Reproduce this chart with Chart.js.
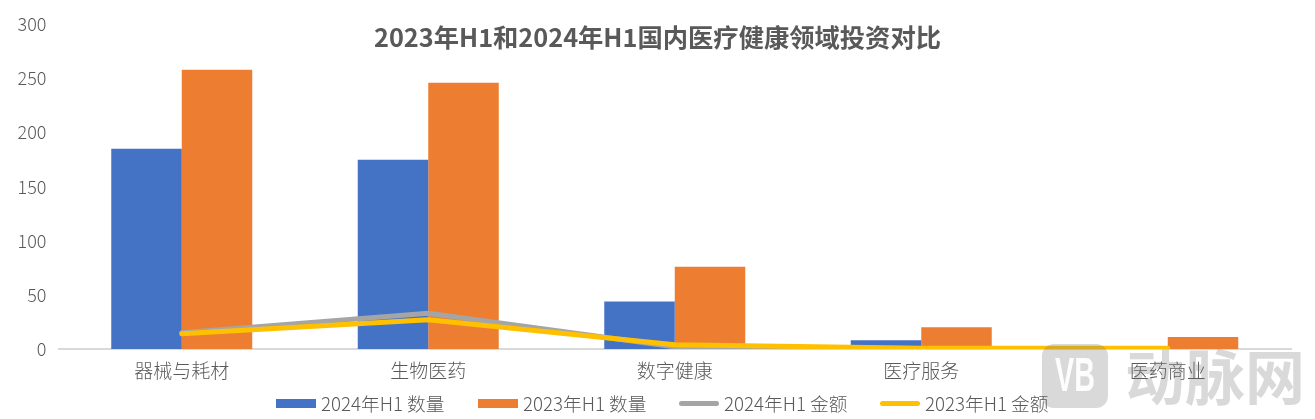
<!DOCTYPE html>
<html>
<head>
<meta charset="utf-8">
<script src="https://cdn.jsdelivr.net/npm/chart.js@4"></script>
<style>
  body { margin: 0; background: #fff; overflow: hidden; }
  #wrap { position: relative; width: 1315px; height: 419px; }
  #legend { position: absolute; left: 0; top: 391px; width: 1315px; height: 24px; font: 300 18.7px "Noto Sans CJK SC", sans-serif; color: #595959; }
  #legend .item { position: absolute; top: 0; line-height: 24px; white-space: nowrap; }
  #legend i { position: absolute; left: 0; top: 8px; width: 40px; height: 9px; }
  #legend i.ln { top: 10px; height: 5px; border-radius: 3px; }
  #legend span { position: absolute; left: 45px; }
</style>
</head>
<body>
<div id="wrap">
  <canvas id="chart" width="1315" height="419"></canvas>
  <div id="legend"></div>
</div>
<script>
const categories = ['器械与耗材', '生物医药', '数字健康', '医疗服务', '医药商业'];
const count2024 = [185, 175, 44, 8, 0];
const count2023 = [258, 246, 76, 20, 11];
const amount2024 = [15, 33, 2, 0.5, 0.5];
const amount2023 = [14, 27, 4, 0.7, 0.7];
const yTicks = [0, 50, 100, 150, 200, 250, 300];
const titleText = '2023年H1和2024年H1国内医疗健康领域投资对比';

const FONT = '"Noto Sans CJK SC", sans-serif';
const BLUE = '#4472C4', ORANGE = '#ED7D31', GREY = '#A5A5A5', YELLOW = '#FFC000';
const WATERMARK = 'rgba(120,120,120,0.28)';

const legendItems = [
  { label: '2024年H1 数量', color: BLUE, x: 276 },
  { label: '2023年H1 数量', color: ORANGE, x: 478 },
  { label: '2024年H1 金额', color: GREY, x: 679, line: true },
  { label: '2023年H1 金额', color: YELLOW, x: 880, line: true }
];

document.getElementById('legend').innerHTML = legendItems.map(l => `
  <div class="item" style="left:${l.x}px">
    <i class="${l.line ? 'ln' : ''}" style="background:${l.color}"></i><span>${l.label}</span>
  </div>`).join('');

// faint site watermark in the lower right corner
const watermark = {
  id: 'watermark',
  afterDraw(c) {
    const ctx = c.ctx;
    ctx.save();
    ctx.fillStyle = WATERMARK;
    ctx.beginPath();
    ctx.roundRect(1042, 344, 66, 64, 12);
    ctx.fill();
    ctx.font = 'bold 60px ' + FONT;
    ctx.textBaseline = 'middle';
    ctx.fillText('动脉网', 1125, 377);
    // squeezed VB letters inside the badge
    ctx.fillStyle = 'rgba(255,255,255,0.95)';
    ctx.font = 'bold 48px "Liberation Sans"';
    ctx.textAlign = 'center';
    ctx.translate(1075, 378);
    ctx.scale(0.6, 1);
    ctx.fillText('VB', 0, 0);
    ctx.restore();
  }
};

new Chart(document.getElementById('chart'), {
  data: {
    labels: categories,
    datasets: [
      { type: 'line', label: '2023年H1 金额', data: amount2023, borderColor: YELLOW, order: 1 },
      { type: 'line', label: '2024年H1 金额', data: amount2024, borderColor: GREY, order: 2 },
      { type: 'bar', label: '2024年H1 数量', data: count2024, backgroundColor: BLUE, order: 3 },
      { type: 'bar', label: '2023年H1 数量', data: count2023, backgroundColor: ORANGE, order: 4 }
    ]
  },
  options: {
    responsive: false,
    animation: false,
    layout: { padding: { top: 24, right: 0, left: 0, bottom: 0 } },
    datasets: {
      bar: { barPercentage: 1, categoryPercentage: 0.572 },
      line: { borderWidth: 5, pointRadius: 0, tension: 0, borderCapStyle: 'round', borderJoinStyle: 'round' }
    },
    plugins: {
      legend: { display: false },
      tooltip: { enabled: false },
      title: {
        display: true,
        text: titleText,
        color: '#595959',
        font: { family: FONT, size: 25.3, weight: 'bold' },
        padding: { top: -2, bottom: -28 }
      }
    },
    scales: {
      x: {
        grid: { display: false, drawTicks: false },
        border: { color: '#D9D9D9', width: 2 },
        ticks: { color: '#595959', font: { family: FONT, size: 19, weight: 300 }, padding: 10, maxRotation: 0 },
        afterFit(s) { s.height = 70; }
      },
      y: {
        min: 0,
        max: 300,
        afterBuildTicks(s) { s.ticks = yTicks.map(v => ({ value: v })); },
        grid: { display: false, drawTicks: false },
        border: { display: false },
        ticks: { color: '#595959', font: { family: FONT, size: 18, weight: 300 }, padding: 12 },
        afterFit(s) { s.width = 58.5; }
      },
      // empty strip that keeps the plot clear of the right edge
      rightGap: {
        position: 'right',
        grid: { display: false, drawTicks: false },
        border: { display: false },
        ticks: { display: false },
        afterFit(s) { s.width = 24; }
      }
    }
  },
  plugins: [watermark]
});
</script>
</body>
</html>
